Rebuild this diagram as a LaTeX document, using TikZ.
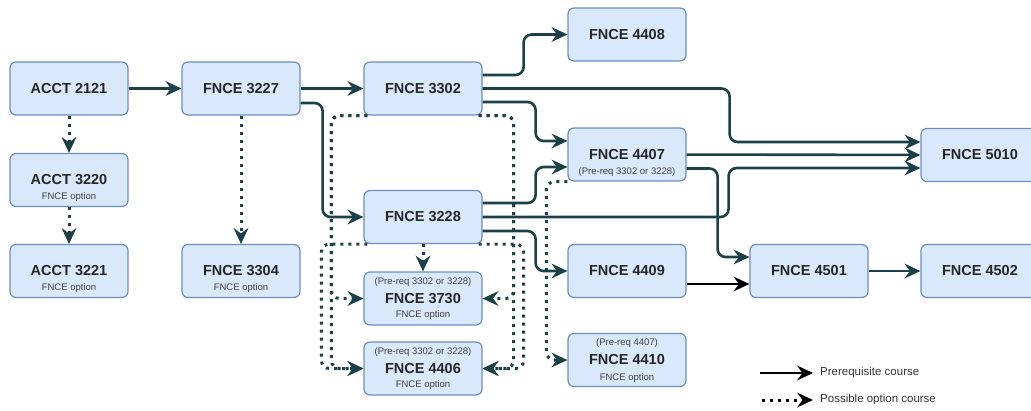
\documentclass[tikz,border=0pt]{standalone}
\usepackage{fontspec}
\setmainfont{Liberation Sans}
\usetikzlibrary{arrows.meta}
\usepackage{xcolor}

\definecolor{boxfill}{HTML}{DAE8FC}
\definecolor{boxline}{HTML}{6C8EBF}
\definecolor{linkcol}{HTML}{1B4049}

\tikzset{
  course/.style={draw=boxline, fill=boxfill, line width=1.2pt, rounded corners=6pt,
    minimum width=118pt, minimum height=53pt, inner sep=0pt,
    font=\fontsize{14.5}{17}\selectfont\bfseries, text=black!85},
  note/.style={font=\fontsize{9.5}{11}\selectfont, text=black!75, inner sep=0pt},
  tip/.style={-{Stealth[length=16pt,width=15pt,inset=5.5pt,line width=0pt]}},
  pre/.style={tip, draw=linkcol, line width=2.6pt},
  opt/.style={tip, draw=linkcol, line width=3pt, dash pattern=on 3pt off 5pt},
  bent/.style={rounded corners=8pt},
  legtext/.style={anchor=west, inner xsep=7pt, font=\fontsize{11.5}{13}\selectfont, text=black!80}
}

\begin{document}
\begin{tikzpicture}[x=1pt, y=-1pt]
        \useasboundingbox (0,0) rectangle (1031,410);

        % courses
        \node[course] (a2121) at (69,88.5) {ACCT 2121};
        \node[course] (a3220) at (69,180) {ACCT 3220};
        \node[course] (a3221) at (69,271) {ACCT 3221};
        \node[course] (f3227) at (241,88.5) {FNCE 3227};
        \node[course] (f3304) at (241,271) {FNCE 3304};
        \node[course] (f3302) at (423,88.5) {FNCE 3302};
        \node[course] (f3228) at (423,217) {FNCE 3228};
        \node[course] (f3730) at (423,298.5) {FNCE 3730};
        \node[course] (f4406) at (423,368.5) {FNCE 4406};
        \node[course] (f4408) at (627,34.5) {FNCE 4408};
        \node[course] (f4407) at (627,154.5) {FNCE 4407};
        \node[course] (f4409) at (627,271) {FNCE 4409};
        \node[course] (f4410) at (627,360) {FNCE 4410};
        \node[course] (f4501) at (809,271) {FNCE 4501};
        \node[course] (f4502) at (980,271) {FNCE 4502};
        \node[course] (f5010) at (980,155) {FNCE 5010};

        % small notes inside the boxes
        \node[note] (n3220) at ([yshift=-17.5pt]a3220.center) {FNCE option};
        \node[note] (n3221) at ([yshift=-17.5pt]a3221.center) {FNCE option};
        \node[note] (n3304) at ([yshift=-17.5pt]f3304.center) {FNCE option};
        \node[note] (p3730) at ([yshift=16.5pt]f3730.center) {(Pre-req 3302 or 3228)};
        \node[note] (n3730) at ([yshift=-16.5pt]f3730.center) {FNCE option};
        \node[note] (p4406) at ([yshift=16.5pt]f4406.center) {(Pre-req 3302 or 3228)};
        \node[note] (n4406) at ([yshift=-16.5pt]f4406.center) {FNCE option};
        \node[note] (p4407) at ([yshift=-18pt]f4407.center) {(Pre-req 3302 or 3228)};
        \node[note] (p4410) at ([yshift=17pt]f4410.center) {(Pre-req 4407)};
        \node[note] (n4410) at ([yshift=-18pt]f4410.center) {FNCE option};

        % prerequisites
        \draw[pre] (a2121) -- (f3227);
        \draw[pre] (f3227) -- (f3302);
        \draw[pre, bent] ([yshift=-14.5pt]f3227.east) -- ++(22,0) |- (f3228);
        \draw[pre, bent] ([yshift=13.5pt]f3302.east) -- ++(41,0) |- (f4408);
        \draw[pre, bent] (f3302.east) -- ++(247,0) |- ([yshift=13pt]f5010.west);
        \draw[pre, bent] ([yshift=-13.5pt]f3302.east) -- ++(53,0) |- ([yshift=13.5pt]f4407.west);
        \draw[pre, bent] ([yshift=14pt]f3228.east) -- ++(53,0) |- ([yshift=-12.5pt]f4407.west);
        \draw[pre, bent] (f3228.east) -- ++(246,0) |- ([yshift=-13pt]f5010.west);
        \draw[pre, bent] ([yshift=-14pt]f3228.east) -- ++(53,0) |- (f4409);
        \draw[pre] (f4407) -- (f5010);
        \draw[pre, bent] ([yshift=-14pt]f4407.east) -- ++(31,0) |- ([yshift=14pt]f4501.west);
        \draw[pre, draw=black] ([yshift=-13pt]f4409.east) -- ([yshift=-13pt]f4501.west);
        \draw[pre] (f4501) -- (f4502);

        % options
        \draw[opt] (a2121) -- (a3220);
        \draw[opt] (a3220) -- (a3221);
        \draw[opt] (f3227) -- (f3304);
        \draw[opt] (f3228) -- (f3730);
        \draw[opt, bent] ([xshift=4pt]f3302.south west) -- ++(-36,0) |- (f3730);
        \draw[opt, bent] ([xshift=4pt]f3302.south west) -- ++(-36,0) |- (f4406);
        \draw[opt, bent] ([xshift=4pt]f3228.south west) -- ++(-46,0) |- (f4406);
        \draw[opt, bent] ([xshift=-4pt]f3302.south east) -- ++(35,0) |- (f3730);
        \draw[opt, bent] ([xshift=-4pt]f3302.south east) -- ++(35,0) |- (f4406);
        \draw[opt, bent] ([xshift=-4pt]f3228.south east) -- ++(45,0) |- (f4406);
        \draw[opt, bent] (f4407.south west) -- ++(-21,0) |- (f4410);

        % legend
        \coordinate (lg1) at (760,373);
        \coordinate (lg2) at (762,400);
        \node[legtext] (lgt1) at (813,373) {Prerequisite course};
        \node[legtext] (lgt2) at (813,400) {Possible option course};
        \draw[pre, draw=black] (lg1) -- (lgt1.west);
        \draw[opt, draw=black] (lg2) -- (lgt2.west);
\end{tikzpicture}
\end{document}
